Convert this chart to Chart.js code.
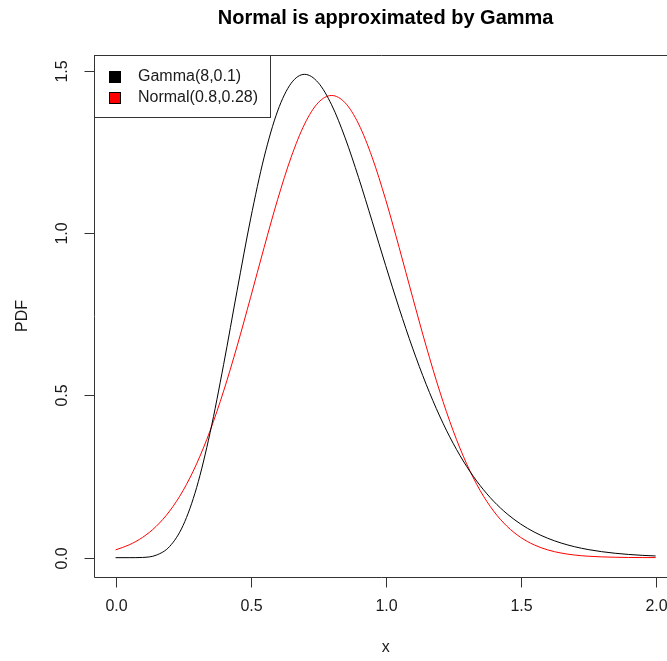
<!DOCTYPE html>
<html>
<head>
<meta charset="utf-8">
<title>Normal is approximated by Gamma</title>
<script src="https://cdn.jsdelivr.net/npm/chart.js@4/dist/chart.umd.min.js"></script>
<style>
  html, body { margin: 0; padding: 0; background: #fff; overflow: hidden; }
  #wrap { width: 667px; height: 661px; }
</style>
</head>
<body>
<div id="wrap"><canvas id="plot" width="667" height="661"></canvas></div>
<script>
// x grid the densities were read at
const xs = [0.00, 0.05, 0.10, 0.15, 0.20, 0.25, 0.30, 0.35, 0.40, 0.45,
            0.50, 0.55, 0.60, 0.65, 0.70, 0.75, 0.80, 0.85, 0.90, 0.95,
            1.00, 1.05, 1.10, 1.15, 1.20, 1.25, 1.30, 1.35, 1.40, 1.45,
            1.50, 1.55, 1.60, 1.65, 1.70, 1.75, 1.80, 1.85, 1.90, 1.95, 2.00];

// Gamma(8,0.1) density
const gammaPdf = [0.0000, 0.0000, 0.0007, 0.0076, 0.0344, 0.0994, 0.2160, 0.3855, 0.5954, 0.8236,
                  1.0445, 1.2345, 1.3768, 1.4623, 1.4900, 1.4648, 1.3959, 1.2942, 1.1712, 1.0371,
                  0.9008, 0.7688, 0.6458, 0.5347, 0.4368, 0.3526, 0.2814, 0.2223, 0.1739, 0.1349,
                  0.1037, 0.0791, 0.0599, 0.0451, 0.0337, 0.0250, 0.0185, 0.0136, 0.0099, 0.0072, 0.0052];

// Normal(0.8,0.28) density
const normalPdf = [0.0240, 0.0394, 0.0626, 0.0963, 0.1435, 0.2070, 0.2893, 0.3916, 0.5136, 0.6523,
                   0.8026, 0.9564, 1.1040, 1.2343, 1.3368, 1.4023, 1.4248, 1.4023, 1.3368, 1.2343,
                   1.1040, 0.9564, 0.8026, 0.6523, 0.5136, 0.3916, 0.2893, 0.2070, 0.1435, 0.0963,
                   0.0626, 0.0394, 0.0240, 0.0142, 0.0081, 0.0045, 0.0024, 0.0013, 0.0006, 0.0003, 0.0002];

const xTicks = [0, 0.5, 1.0, 1.5, 2.0];
const yTicks = [0, 0.5, 1.0, 1.5];
const seriesNames = ['Gamma(8,0.1)', 'Normal(0.8,0.28)'];
const seriesColors = ['#000000', '#ff0000'];

const FONT = '"Liberation Sans", Arial, sans-serif';
const INK = '#1a1a1a';

function points(ys) {
  return xs.map((x, i) => ({ x: x, y: ys[i] }));
}

// base-graphics style frame, axes, labels and legend
const rFrame = {
  id: 'rFrame',
  afterDraw(chart) {
    const ctx = chart.ctx;
    const area = chart.chartArea;
    const sx = chart.scales.x;
    const sy = chart.scales.y;
    const left = Math.round(area.left) + 0.5;
    const top = Math.round(area.top) + 0.5;
    const bottom = Math.round(area.bottom) + 0.5;

    ctx.save();
    ctx.strokeStyle = '#333';
    ctx.lineWidth = 1;

    // box (right side runs past the canvas)
    ctx.beginPath();
    ctx.moveTo(chart.width + 2, top);
    ctx.lineTo(left, top);
    ctx.lineTo(left, bottom);
    ctx.lineTo(chart.width + 2, bottom);
    ctx.stroke();

    ctx.fillStyle = INK;
    ctx.font = '16px ' + FONT;

    // x axis
    ctx.textAlign = 'center';
    ctx.textBaseline = 'middle';
    xTicks.forEach(v => {
      const px = Math.round(sx.getPixelForValue(v)) + 0.5;
      ctx.beginPath();
      ctx.moveTo(px, bottom);
      ctx.lineTo(px, bottom + 10);
      ctx.stroke();
      ctx.fillText(v.toFixed(1), px, 607);
    });

    // y axis, labels turned like the axis title
    yTicks.forEach(v => {
      const py = Math.round(sy.getPixelForValue(v)) + 0.5;
      ctx.beginPath();
      ctx.moveTo(left, py);
      ctx.lineTo(left - 10, py);
      ctx.stroke();
      ctx.save();
      ctx.translate(63, py);
      ctx.rotate(-Math.PI / 2);
      ctx.fillText(v.toFixed(1), 0, 0);
      ctx.restore();
    });

    // axis titles
    const midX = (area.left + sx.getPixelForValue(2.08)) / 2;
    ctx.fillText('x', midX, 648);
    ctx.save();
    ctx.translate(23, (area.top + area.bottom) / 2);
    ctx.rotate(-Math.PI / 2);
    ctx.fillText('PDF', 0, 0);
    ctx.restore();

    // main title
    ctx.fillStyle = '#000';
    ctx.font = 'bold 20px ' + FONT;
    ctx.textBaseline = 'alphabetic';
    ctx.fillText('Normal is approximated by Gamma', midX, 24);

    // legend
    const lx = left, ly = top, lw = 176, lh = 62;
    ctx.fillStyle = '#fff';
    ctx.fillRect(lx, ly, lw, lh);
    ctx.strokeStyle = '#333';
    ctx.strokeRect(lx, ly, lw, lh);
    ctx.font = '16px ' + FONT;
    ctx.textAlign = 'left';
    ctx.textBaseline = 'middle';
    seriesNames.forEach((name, i) => {
      const cy = 77 + i * 20.5;
      ctx.fillStyle = seriesColors[i];
      ctx.fillRect(109, Math.round(cy - 6), 12, 12);
      ctx.strokeStyle = '#000';
      ctx.strokeRect(109.5, Math.round(cy - 6) + 0.5, 11, 11);
      ctx.fillStyle = INK;
      ctx.fillText(name, 138, cy);
    });
    ctx.restore();
  }
};

new Chart(document.getElementById('plot'), {
  type: 'line',
  data: {
    datasets: [
      {
        label: seriesNames[0],
        data: points(gammaPdf),
        borderColor: seriesColors[0],
        borderWidth: 1,
        pointRadius: 0,
        cubicInterpolationMode: 'monotone',
        fill: false
      },
      {
        label: seriesNames[1],
        data: points(normalPdf),
        borderColor: seriesColors[1],
        borderWidth: 1,
        pointRadius: 0,
        cubicInterpolationMode: 'monotone',
        fill: false
      }
    ]
  },
  options: {
    responsive: false,
    animation: false,
    layout: { padding: { left: 94, top: 55, right: 0, bottom: 84 } },
    plugins: {
      legend: { display: false },
      title: { display: false },
      tooltip: { enabled: false }
    },
    scales: {
      x: { type: 'linear', min: -0.08, max: 2.042, display: false },
      y: { type: 'linear', min: -0.0596, max: 1.5496, display: false }
    }
  },
  plugins: [rFrame]
});
</script>
</body>
</html>
